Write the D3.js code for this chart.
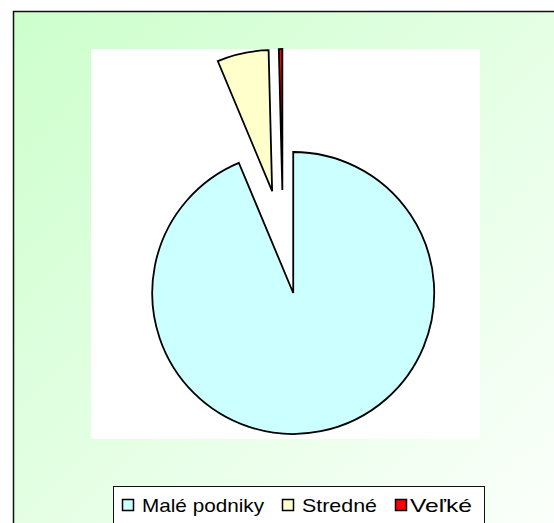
<!DOCTYPE html>
<html>
<head>
<meta charset="utf-8">
<script src="https://cdn.jsdelivr.net/npm/d3@7"></script>
<style>
  body { margin: 0; background: #fff; }
  svg { display: block; }
  .legend-text { font-family: "Liberation Sans", Arial, sans-serif; font-size: 19px; fill: #000; }
</style>
</head>
<body>
<div class="pie-chart"></div>
<script>
// data
const categories = ["Malé podniky", "Stredné", "Veľké"]
const shares = [93.7, 5.9, 0.4]
const colors = ["#ccffff", "#ffffcc", "#ff0000"]

function generatePieChart () {
  const width = 554
  const height = 523
  const radius = 141
  const explode = 52
  const cx = 283
  const cy = 242

  const svg = d3.select(".pie-chart").append("svg")
    .attr("width", width)
    .attr("height", height)

  const grad = svg.append("defs").append("linearGradient")
    .attr("id", "bg")
    .attr("x1", 0).attr("y1", 0)
    .attr("x2", 1).attr("y2", 1)
  grad.append("stop").attr("offset", "0%").attr("stop-color", "#ccffcc")
  grad.append("stop").attr("offset", "100%").attr("stop-color", "#ffffff")

  // chart area (runs past the window on right and bottom)
  svg.append("rect")
    .attr("x", 13.5).attr("y", 11.5)
    .attr("width", 580).attr("height", 560)
    .attr("fill", "url(#bg)")
    .attr("stroke", "#111")
    .attr("stroke-width", 1.5)

  // plot area
  svg.append("rect")
    .attr("x", 91).attr("y", 49)
    .attr("width", 389).attr("height", 390)
    .attr("fill", "#fff")

  const pie = d3.pie()
    .sort(null)
    .value(d => d.value)

  const arc = d3.arc()
    .innerRadius(0)
    .outerRadius(radius)

  const arcs = pie(categories.map((c, i) => ({ key: c, value: shares[i] })))

  const colorScale = d3.scaleOrdinal()
    .domain(categories)
    .range(colors)

  svg.append("g")
    .attr("transform", "translate(" + cx + "," + cy + ")")
    .selectAll("path")
    .data(arcs)
    .enter().append("path")
    .attr("fill", d => colorScale(d.data.key))
    .attr("stroke", "#000")
    .attr("stroke-width", 1.8)
    .attr("d", arc)
    .attr("transform", d => {
      const mid = (d.startAngle + d.endAngle) / 2
      return "translate(" + explode * Math.sin(mid) + "," + (-explode * Math.cos(mid)) + ")"
    })

  // legend
  const legend = svg.append("g")
  legend.append("rect")
    .attr("x", 113.5).attr("y", 486.5)
    .attr("width", 371).attr("height", 60)
    .attr("fill", "#fff")
    .attr("stroke", "#111")
    .attr("stroke-width", 1)

  const markerX = [122, 282, 395]
  const textX = [142, 302, 410]
  const textW = [122, 75, 62]

  const items = legend.selectAll("g.item")
    .data(categories)
    .enter().append("g")
    .attr("class", "item")

  items.append("rect")
    .attr("x", (d, i) => markerX[i] + 0.5)
    .attr("y", 499.5)
    .attr("width", 11).attr("height", 11)
    .attr("fill", d => colorScale(d))
    .attr("stroke", "#000")
    .attr("stroke-width", 1.5)

  items.append("text")
    .attr("class", "legend-text")
    .attr("x", (d, i) => textX[i])
    .attr("y", 512)
    .attr("textLength", (d, i) => textW[i])
    .attr("lengthAdjust", "spacingAndGlyphs")
    .text(d => d)
}

generatePieChart()
</script>
</body>
</html>
